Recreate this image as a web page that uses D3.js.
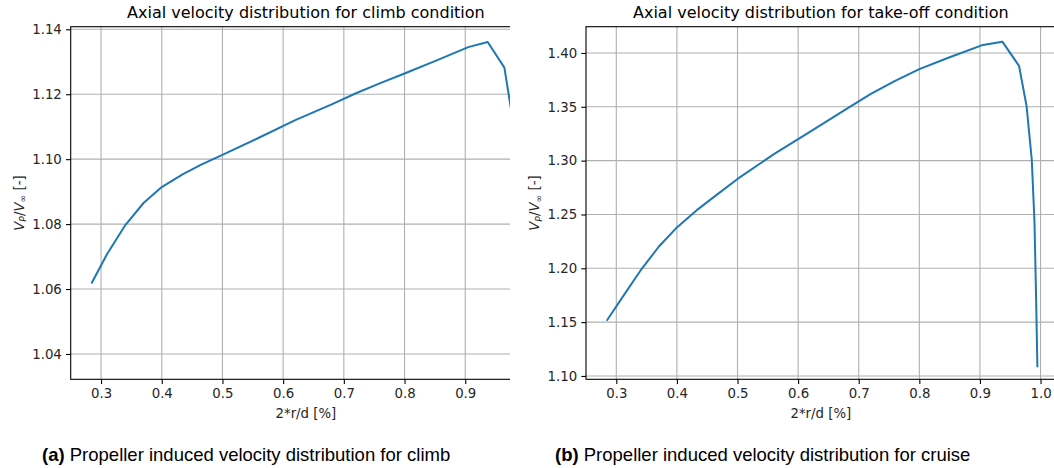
<!DOCTYPE html>
<html>
<head>
<meta charset="utf-8">
<script src="https://cdn.jsdelivr.net/npm/d3@7"></script>
<style>
  html, body { margin: 0; padding: 0; background: #ffffff; }
  svg { display: block; }
  .tick text { font-family: "DejaVu Sans", sans-serif; }
</style>
</head>
<body>
<svg id="fig" width="1054" height="468"></svg>
<script>
// Radial stations (2*r/d) shared by both operating conditions
const radialStations = [0.285, 0.31, 0.34, 0.37, 0.40, 0.435, 0.465, 0.50, 0.56, 0.62, 0.68, 0.72,
                        0.76, 0.80, 0.85, 0.905, 0.937, 0.9645, 0.977, 0.9855, 0.990, 0.992, 0.9948];

// Vp / Vinf for climb
const climbVelocity = [1.0620, 1.0708, 1.0797, 1.0865, 1.0914, 1.0954, 1.0983, 1.1013, 1.1066, 1.1120,
                       1.1169, 1.1203, 1.1234, 1.1264, 1.1302, 1.1345, 1.1361, 1.1282, 1.1135, 1.0990,
                       1.0800, 1.0640, 1.0370];

// Vp / Vinf for take-off
const takeoffVelocity = [1.152, 1.173, 1.198, 1.220, 1.238, 1.255, 1.268, 1.283, 1.306, 1.327,
                         1.348, 1.362, 1.374, 1.385, 1.396, 1.4075, 1.4105, 1.388, 1.3505, 1.301,
                         1.243, 1.190, 1.109];

// Tick labels
const xTicks = [0.3, 0.4, 0.5, 0.6, 0.7, 0.8, 0.9, 1.0];
const climbYTicks = [1.04, 1.06, 1.08, 1.10, 1.12, 1.14];
const takeoffYTicks = [1.10, 1.15, 1.20, 1.25, 1.30, 1.35, 1.40];

const titles = ["Axial velocity distribution for climb condition",
                "Axial velocity distribution for take-off condition"];
const captionTags = ["(a)", "(b)"];
const captionTexts = [" Propeller induced velocity distribution for climb",
                      " Propeller induced velocity distribution for cruise"];

const svg = d3.select("#fig");
const LINE = "#1f77b4";
const GRID = "#b0b0b0";
const FONT = "'DejaVu Sans', sans-serif";

function drawPanel(opt) {
  const g = svg.append("g");
  if (opt.clipRight) {
    svg.append("clipPath").attr("id", opt.id + "-clip")
      .append("rect").attr("x", 0).attr("y", 0).attr("width", opt.clipRight).attr("height", 468);
    g.attr("clip-path", `url(#${opt.id}-clip)`);
  }

  const x = d3.scaleLinear().domain([0.25, 1.025]).range([opt.left, opt.right]);
  const y = d3.scaleLinear().domain(opt.yDomain).range([opt.bottom, opt.top]);

  // grid
  g.append("g").selectAll("line").data(xTicks).join("line")
    .attr("x1", d => x(d)).attr("x2", d => x(d))
    .attr("y1", opt.top).attr("y2", opt.bottom)
    .attr("stroke", GRID).attr("stroke-width", 1.1);
  g.append("g").selectAll("line").data(opt.yTicks).join("line")
    .attr("x1", opt.left).attr("x2", opt.right)
    .attr("y1", d => y(d)).attr("y2", d => y(d))
    .attr("stroke", GRID).attr("stroke-width", 1.1);

  // series line, clipped to the axes area
  const axClipId = opt.id + "-ax";
  svg.append("clipPath").attr("id", axClipId)
    .append("rect").attr("x", opt.left).attr("y", opt.top)
    .attr("width", opt.right - opt.left).attr("height", opt.bottom - opt.top);
  const pts = radialStations.map((r, i) => [r, opt.values[i]]);
  g.append("g").attr("clip-path", `url(#${axClipId})`)
    .append("path").datum(pts)
    .attr("fill", "none").attr("stroke", LINE).attr("stroke-width", 2)
    .attr("stroke-linejoin", "round").attr("stroke-linecap", "square")
    .attr("d", d3.line().x(d => x(d[0])).y(d => y(d[1])));

  // axes
  const xAxis = d3.axisBottom(x).tickValues(xTicks).tickFormat(d3.format(".1f"))
    .tickSize(4.7).tickPadding(4.2);
  const yAxis = d3.axisLeft(y).tickValues(opt.yTicks).tickFormat(d3.format(".2f"))
    .tickSize(4.7).tickPadding(4.2);

  const gx = g.append("g").attr("transform", `translate(0,${opt.bottom})`).call(xAxis);
  const gy = g.append("g").attr("transform", `translate(${opt.left},0)`).call(yAxis);
  [gx, gy].forEach(a => {
    a.select(".domain").remove();
    a.selectAll(".tick line").attr("stroke", "#000").attr("stroke-width", 1.1);
    a.selectAll(".tick text").attr("fill", "#262626").style("font-size", "13.3px")
      .style("font-family", FONT);
  });

  // spines
  const sp = g.append("g").attr("stroke", "#000").attr("stroke-width", 1.1).attr("fill", "none");
  sp.append("rect").attr("x", opt.left).attr("y", opt.top)
    .attr("width", opt.right - opt.left).attr("height", opt.bottom - opt.top);

  // title
  g.append("text").attr("x", (opt.left + opt.right) / 2).attr("y", opt.top - 8.5)
    .attr("text-anchor", "middle").attr("fill", "#000")
    .style("font-family", FONT).style("font-size", "16px").text(opt.title);

  // x label
  g.append("text").attr("x", (opt.left + opt.right) / 2).attr("y", opt.bottom + 39)
    .attr("text-anchor", "middle").attr("fill", "#262626")
    .style("font-family", FONT).style("font-size", "13.3px").text("2*r/d [%]");

  // y label: V_P / V_inf [-]
  const yl = g.append("text")
    .attr("transform", `translate(${opt.left - 47},${(opt.top + opt.bottom) / 2}) rotate(-90)`)
    .attr("text-anchor", "middle").attr("fill", "#262626")
    .style("font-family", FONT).style("font-size", "13.3px");
  yl.append("tspan").style("font-style", "italic").text("V");
  yl.append("tspan").style("font-style", "italic").style("font-size", "9.3px").attr("dy", 2.5).text("P");
  yl.append("tspan").attr("dy", -2.5).text("/");
  yl.append("tspan").style("font-style", "italic").text("V");
  yl.append("tspan").style("font-size", "9.3px").attr("dy", 2.5).text("\u221E");
  yl.append("tspan").attr("dy", -2.5).text(" [-]");

  // caption below the panel
  const cap = svg.append("text").attr("x", opt.captionX).attr("y", 461)
    .attr("fill", "#000").style("font-family", "'Liberation Sans', Arial, sans-serif")
    .style("font-size", "18.5px");
  cap.append("tspan").style("font-weight", "bold").text(opt.tag);
  cap.append("tspan").text(opt.caption);
}

drawPanel({
  id: "climb", left: 70.7, right: 541.1, top: 26.7, bottom: 379.3, clipRight: 510,
  yDomain: [1.0322, 1.1408], yTicks: climbYTicks, values: climbVelocity,
  title: titles[0], tag: captionTags[0], caption: captionTexts[0], captionX: 42
});
drawPanel({
  id: "takeoff", left: 586, right: 1055.7, top: 26.7, bottom: 379.3,
  yDomain: [1.0969, 1.4244], yTicks: takeoffYTicks, values: takeoffVelocity,
  title: titles[1], tag: captionTags[1], caption: captionTexts[1], captionX: 555
});
</script>
</body>
</html>
